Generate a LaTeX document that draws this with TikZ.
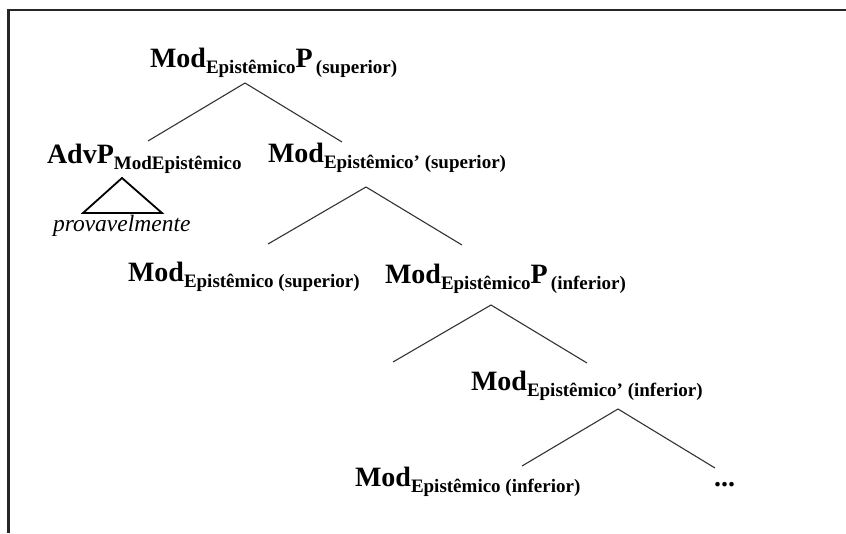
\documentclass[tikz,border=0pt]{standalone}
\usepackage{fontspec}
\setmainfont{Liberation Serif}

% lowered, smaller bold subscript text
\newcommand\lowsub[1]{\raisebox{-6.5pt}{\fontsize{19}{21}\selectfont\bfseries #1}}

\begin{document}
\begin{tikzpicture}[x=1pt,y=-1pt,
  lab/.style={anchor=base west, inner sep=0pt, outer sep=0pt,
              font=\fontsize{28}{31}\selectfont\bfseries},
  leaf/.style={anchor=base west, inner sep=0pt, outer sep=0pt,
               font=\fontsize{23.5}{26}\selectfont\itshape},
  branch/.style={line width=1.1pt, draw=black!80},
  roof/.style={line width=1.8pt, draw=black, line join=miter},
  frame/.style={line width=2.4pt, draw=black!85}]
\useasboundingbox (0,0) rectangle (846,533);

% frame edges
\draw[frame] (8.5,533) -- (8.5,10) -- (846,10);

% labels
\node[lab] (modp1) at (150,67) {Mod\lowsub{Epistêmico}P\lowsub{\,(superior)}};
\node[lab] (advp) at (47,163) {AdvP\lowsub{ModEpistêmico}};
\node[leaf] (adv) at (53,231) {provavelmente};
\node[lab] (modbar1) at (268,162) {Mod\lowsub{Epistêmico’ (superior)}};
\node[lab] (mod1) at (128,281) {Mod\lowsub{Epistêmico (superior)}};
\node[lab] (modp2) at (385,283) {Mod\lowsub{Epistêmico}P\lowsub{\,(inferior)}};
\node[lab] (modbar2) at (471,390) {Mod\lowsub{Epistêmico’ (inferior)}};
\node[lab] (mod2) at (355,486) {Mod\lowsub{Epistêmico (inferior)}};
\node[lab] (dots) at (714,486) {...};

% branch points
\coordinate (t1) at (245,83);
\coordinate (t1l) at (148,141);
\coordinate (t1r) at (342,142);
\coordinate (t2) at (366,187);
\coordinate (t2l) at (268,244);
\coordinate (t2r) at (462,245);
\coordinate (t3) at (491,305);
\coordinate (t3l) at (393,362);
\coordinate (t3r) at (587,363);
\coordinate (t4) at (618,409);
\coordinate (t4l) at (522,466);
\coordinate (t4r) at (715,468);

% branches
\draw[branch] (t1l) -- (t1) -- (t1r);
\draw[branch] (t2l) -- (t2) -- (t2r);
\draw[branch] (t3l) -- (t3) -- (t3r);
\draw[branch] (t4l) -- (t4) -- (t4r);

% roof over the adverb
\coordinate (r1) at (122,178);
\coordinate (r2) at (83,213);
\coordinate (r3) at (162,213);
\draw[roof] (r1) -- (r2) -- (r3) -- cycle;
\end{tikzpicture}
\end{document}
